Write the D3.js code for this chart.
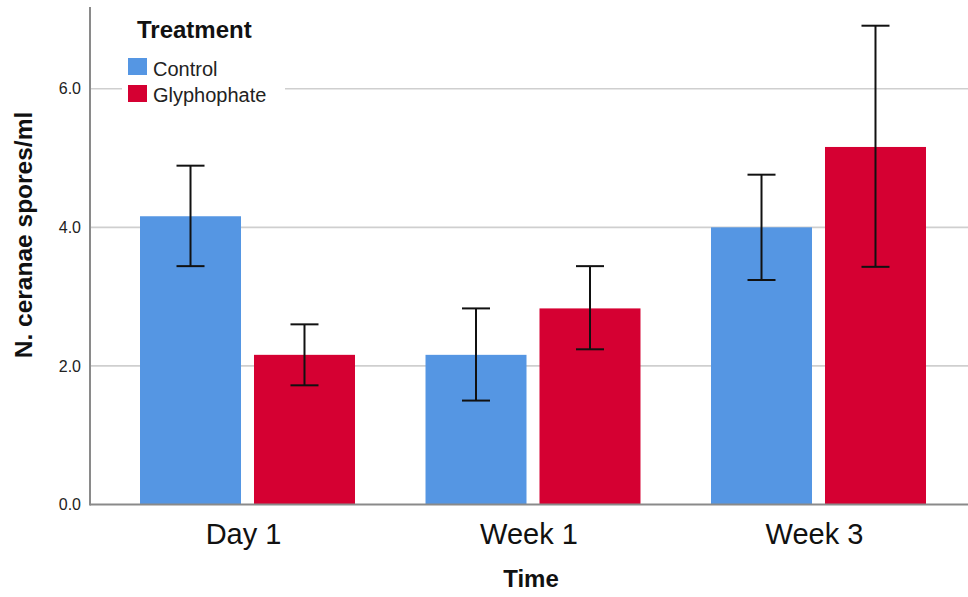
<!DOCTYPE html>
<html><head><meta charset="utf-8">
<script src="https://cdn.jsdelivr.net/npm/d3@7"></script>
<style>html,body{margin:0;padding:0;background:#fff;}svg{display:block;font-family:"Liberation Sans",Arial,sans-serif;}</style>
</head><body>
<svg id="chart" width="968" height="597"></svg>
<script>
const categories = ["Day 1", "Week 1", "Week 3"];
const seriesNames = ["Control", "Glyphophate"];
const controlMean = [4.16, 2.16, 4.00];
const controlLow = [3.44, 1.50, 3.24];
const controlHigh = [4.89, 2.83, 4.76];
const glyphMean = [2.16, 2.83, 5.16];
const glyphLow = [1.72, 2.24, 3.43];
const glyphHigh = [2.60, 3.44, 6.91];
const yTicks = [0, 2, 4, 6];
const colors = ["#5596e3", "#d50032"];

const rows = [];
categories.forEach((c, i) => {
  rows.push({cat: c, s: seriesNames[0], v: controlMean[i], lo: controlLow[i], hi: controlHigh[i]});
  rows.push({cat: c, s: seriesNames[1], v: glyphMean[i], lo: glyphLow[i], hi: glyphHigh[i]});
});

const svg = d3.select("#chart");
const axisX = 90, plotRight = 968, plotTop = 7, baseY = 504.5;

const y = d3.scaleLinear().domain([0, 7.18]).range([baseY, plotTop]);
const x0 = d3.scaleBand().domain(categories).range([104.75, 961.25]).paddingInner(0.247).paddingOuter(0.1235);
const x1 = d3.scaleBand().domain(seriesNames).range([0, x0.bandwidth()]).paddingInner(0.114);
const color = d3.scaleOrdinal().domain(seriesNames).range(colors);

// gridlines
svg.append("g").selectAll("line").data(yTicks.filter(d => d > 0)).join("line")
  .attr("x1", axisX).attr("x2", plotRight)
  .attr("y1", d => y(d)).attr("y2", d => y(d))
  .attr("stroke", "#cfcfcf").attr("stroke-width", 1.6);

// y tick labels
const yAxis = d3.axisLeft(y).tickValues(yTicks).tickFormat(d3.format(".1f")).tickSize(0).tickPadding(9);
const ya = svg.append("g").attr("transform", `translate(${axisX},0)`).call(yAxis);
ya.select(".domain").remove();
ya.selectAll("text").attr("font-size", 16).attr("fill", "#222").attr("font-family", "Liberation Sans, Arial, sans-serif");

// bars
svg.append("g").selectAll("rect").data(rows).join("rect")
  .attr("x", d => x0(d.cat) + x1(d.s))
  .attr("width", x1.bandwidth())
  .attr("y", d => y(d.v))
  .attr("height", d => y(0) - y(d.v))
  .attr("fill", d => color(d.s));

// error bars
const eg = svg.append("g").attr("stroke", "#111").attr("stroke-width", 2);
const capW = 28;
rows.forEach(d => {
  const cx = x0(d.cat) + x1(d.s) + x1.bandwidth() / 2;
  eg.append("line").attr("x1", cx).attr("x2", cx).attr("y1", y(d.lo)).attr("y2", y(d.hi));
  eg.append("line").attr("x1", cx - capW / 2).attr("x2", cx + capW / 2).attr("y1", y(d.hi)).attr("y2", y(d.hi));
  eg.append("line").attr("x1", cx - capW / 2).attr("x2", cx + capW / 2).attr("y1", y(d.lo)).attr("y2", y(d.lo));
});

// axes lines
svg.append("line").attr("x1", axisX).attr("x2", axisX).attr("y1", plotTop).attr("y2", baseY + 1)
  .attr("stroke", "#8a8a8a").attr("stroke-width", 2);
svg.append("line").attr("x1", axisX).attr("x2", plotRight).attr("y1", baseY).attr("y2", baseY)
  .attr("stroke", "#8a8a8a").attr("stroke-width", 2);

// x category labels
const xAxis = d3.axisBottom(x0).tickSize(0).tickPadding(0);
const xa = svg.append("g").attr("transform", `translate(0,${baseY})`).call(xAxis);
xa.select(".domain").remove();
xa.selectAll("text").attr("font-size", 29).attr("fill", "#111").attr("dy", null).attr("y", 39).attr("dx", -4)
  .attr("font-family", "Liberation Sans, Arial, sans-serif");

// axis titles
svg.append("text").attr("x", 531).attr("y", 587).attr("text-anchor", "middle")
  .attr("font-size", 24).attr("font-weight", "bold").attr("fill", "#111").text("Time");
svg.append("text").attr("transform", "translate(32,235) rotate(-90)").attr("text-anchor", "middle")
  .attr("font-size", 24.5).attr("font-weight", "bold").attr("fill", "#111").text("N. ceranae spores/ml");

// legend
const lg = svg.append("g");
lg.append("rect").attr("x", 122).attr("y", 14).attr("width", 163).attr("height", 95).attr("fill", "#fff");
lg.append("text").attr("x", 137).attr("y", 38).attr("font-size", 24).attr("font-weight", "bold").attr("fill", "#111").text("Treatment");
seriesNames.forEach((s, i) => {
  lg.append("rect").attr("x", 128).attr("y", 58 + i * 27).attr("width", 19).attr("height", 17).attr("fill", color(s));
  lg.append("text").attr("x", 153).attr("y", 76 + i * 26).attr("font-size", 20).attr("fill", "#222").text(s);
});
</script>
</body></html>
